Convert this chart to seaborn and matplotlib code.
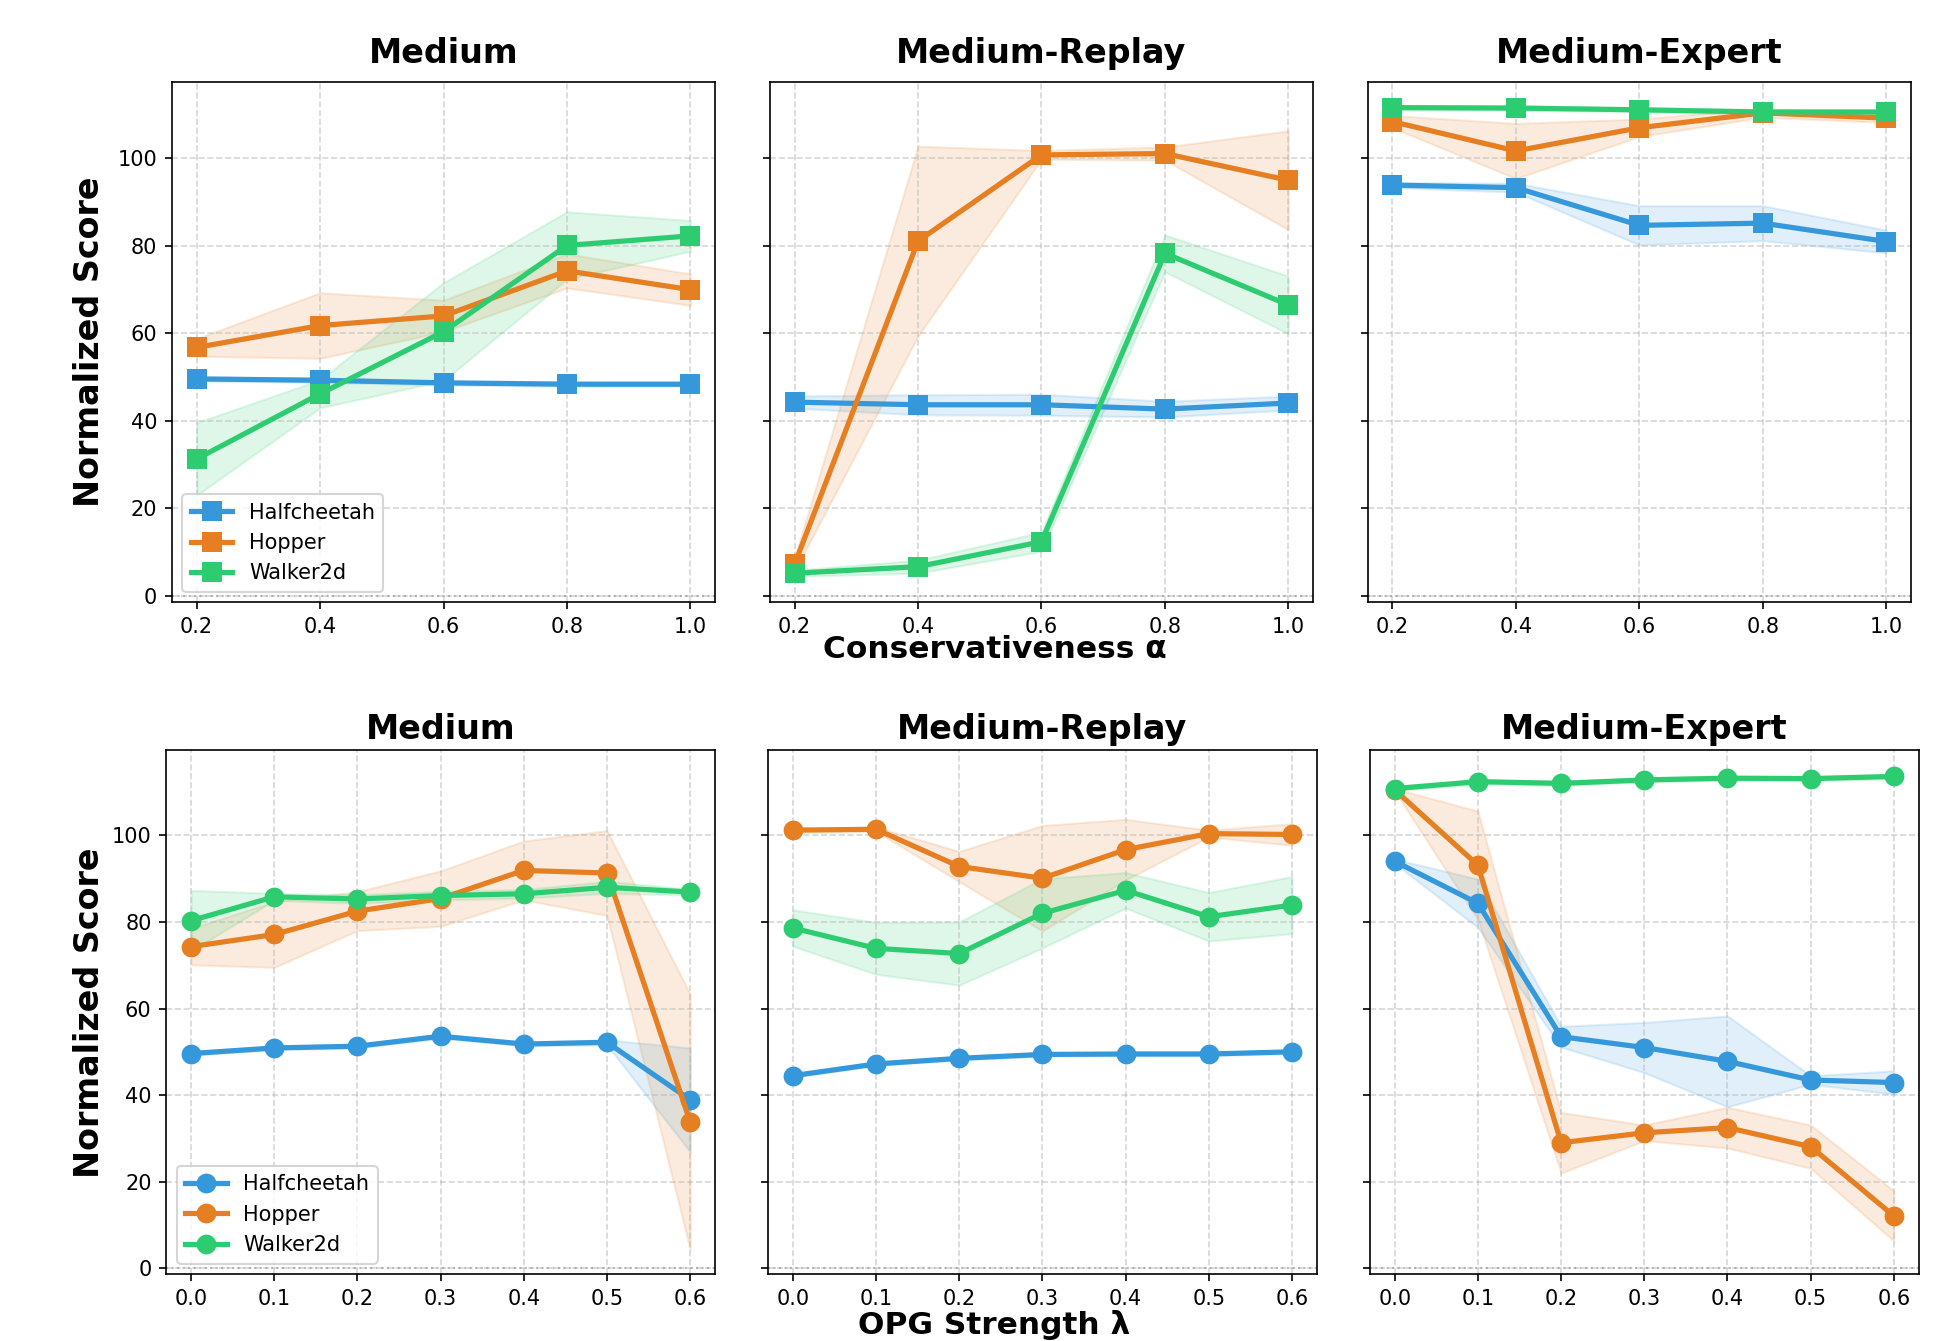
import numpy as np
import pandas as pd
import matplotlib
matplotlib.use("Agg")
import matplotlib.pyplot as plt
import seaborn as sns

envs = ["Halfcheetah", "Hopper", "Walker2d"]
palette = {"Halfcheetah": "#3498db", "Hopper": "#e67e22", "Walker2d": "#2ecc71"}
datasets = ["Medium", "Medium-Replay", "Medium-Expert"]

alphas = [0.2, 0.4, 0.6, 0.8, 1.0]
lambdas = [0.0, 0.1, 0.2, 0.3, 0.4, 0.5, 0.6]

# --- conservativeness alpha sweep (mean / std) ---
a_med_hc = [49.6, 49.3, 48.7, 48.4, 48.4]
a_med_hc_sd = [0.5, 0.5, 0.5, 0.5, 0.5]
a_med_hop = [56.8, 61.8, 64.0, 74.3, 70.0]
a_med_hop_sd = [2.0, 7.5, 3.6, 3.9, 3.6]
a_med_wk = [31.3, 46.2, 60.4, 80.1, 82.3]
a_med_wk_sd = [8.3, 3.2, 11.2, 7.7, 3.5]

a_mr_hc = [44.3, 43.7, 43.7, 42.7, 44.1]
a_mr_hc_sd = [1.4, 2.3, 2.4, 1.8, 1.6]
a_mr_hop = [7.2, 81.1, 100.8, 101.1, 95.0]
a_mr_hop_sd = [1.5, 21.7, 1.0, 1.5, 11.3]
a_mr_wk = [5.2, 6.7, 12.4, 78.3, 66.5]
a_mr_wk_sd = [0.7, 1.5, 2.2, 4.2, 6.6]

a_me_hc = [93.9, 93.3, 84.7, 85.2, 81.0]
a_me_hc_sd = [0.6, 1.0, 4.5, 4.0, 2.6]
a_me_hop = [108.4, 101.7, 107.0, 110.4, 109.2]
a_me_hop_sd = [1.4, 6.3, 2.0, 1.0, 1.0]
a_me_wk = [111.6, 111.5, 111.1, 110.6, 110.6]
a_me_wk_sd = [0.5, 0.5, 0.5, 0.5, 0.5]

# --- OPG strength lambda sweep (mean / std) ---
l_med_hc = [49.6, 50.9, 51.3, 53.6, 51.8, 52.2, 38.9]
l_med_hc_sd = [0.4, 0.4, 0.4, 0.5, 0.4, 0.6, 12.0]
l_med_hop = [74.3, 77.1, 82.5, 85.4, 91.9, 91.3, 33.8]
l_med_hop_sd = [4.2, 7.6, 4.5, 6.4, 6.8, 9.8, 29.5]
l_med_wk = [80.3, 85.8, 85.3, 86.1, 86.5, 88.0, 86.9]
l_med_wk_sd = [7.0, 0.8, 1.0, 1.0, 1.0, 1.4, 0.7]

l_mr_hc = [44.5, 47.2, 48.5, 49.4, 49.5, 49.5, 50.0]
l_mr_hc_sd = [0.4, 0.4, 0.4, 0.4, 0.4, 0.4, 0.4]
l_mr_hop = [101.2, 101.4, 92.8, 90.1, 96.7, 100.4, 100.2]
l_mr_hop_sd = [0.4, 0.5, 3.5, 12.2, 7.0, 0.8, 2.5]
l_mr_wk = [78.6, 73.9, 72.7, 82.0, 87.3, 81.2, 83.9]
l_mr_wk_sd = [4.2, 6.0, 7.3, 8.0, 4.1, 5.6, 6.6]

l_me_hc = [94.0, 84.3, 53.5, 51.0, 47.8, 43.5, 42.9]
l_me_hc_sd = [0.5, 5.6, 2.4, 5.8, 10.5, 1.0, 2.7]
l_me_hop = [110.5, 93.1, 29.0, 31.3, 32.5, 28.1, 12.1]
l_me_hop_sd = [0.3, 12.5, 7.0, 1.8, 4.7, 5.0, 5.8]
l_me_wk = [110.8, 112.4, 112.0, 112.8, 113.2, 113.1, 113.6]
l_me_wk_sd = [0.5, 0.5, 0.5, 0.5, 0.5, 0.5, 0.5]


def make_df(x, series):
    rows = []
    for env, (mean, sd) in zip(envs, series):
        for xi, m, s in zip(x, mean, sd):
            rows.append({"x": xi, "env": env, "score": m, "sd": s})
    return pd.DataFrame(rows)


alpha_dfs = [
    make_df(alphas, [(a_med_hc, a_med_hc_sd), (a_med_hop, a_med_hop_sd), (a_med_wk, a_med_wk_sd)]),
    make_df(alphas, [(a_mr_hc, a_mr_hc_sd), (a_mr_hop, a_mr_hop_sd), (a_mr_wk, a_mr_wk_sd)]),
    make_df(alphas, [(a_me_hc, a_me_hc_sd), (a_me_hop, a_me_hop_sd), (a_me_wk, a_me_wk_sd)]),
]
lambda_dfs = [
    make_df(lambdas, [(l_med_hc, l_med_hc_sd), (l_med_hop, l_med_hop_sd), (l_med_wk, l_med_wk_sd)]),
    make_df(lambdas, [(l_mr_hc, l_mr_hc_sd), (l_mr_hop, l_mr_hop_sd), (l_mr_wk, l_mr_wk_sd)]),
    make_df(lambdas, [(l_me_hc, l_me_hc_sd), (l_me_hop, l_me_hop_sd), (l_me_wk, l_me_wk_sd)]),
]

fig = plt.figure(figsize=(1954 / 150, 1341 / 150), dpi=150)

# axes positions (figure fractions) for the two rows
top_lefts = [0.088, 0.394, 0.700]
bot_lefts = [0.085, 0.393, 0.701]


def draw_row(dfs, lefts, bottom, width, height, xticks, marker, ylim, title_pad):
    axes = []
    for i, (df, left) in enumerate(zip(dfs, lefts)):
        ax = fig.add_axes([left, bottom, width, height], sharey=axes[0] if axes else None)
        for env in envs:
            d = df[df["env"] == env]
            ax.fill_between(d["x"], d["score"] - d["sd"], d["score"] + d["sd"],
                            color=palette[env], alpha=0.15, linewidth=1)
        sns.lineplot(data=df, x="x", y="score", hue="env", palette=palette,
                     marker=marker, markersize=9.5, linewidth=2.5, markeredgewidth=0,
                     errorbar=None, legend=(i == 0), ax=ax)
        ax.axhline(0, color="gray", linestyle=":", linewidth=1, alpha=0.5)
        ax.set_title(datasets[i], fontsize=16, fontweight="bold", pad=title_pad)
        ax.set_xticks(xticks)
        ax.set_xticklabels([f"{v:.1f}" for v in xticks], fontsize=10)
        ax.set_yticks([0, 20, 40, 60, 80, 100])
        ax.set_ylim(*ylim)
        ax.grid(True, linestyle="--", alpha=0.5)
        ax.set_xlabel("")
        ax.set_ylabel("")
        ax.tick_params(axis="y", labelsize=10)
        if i > 0:
            ax.tick_params(labelleft=False)
        else:
            ax.legend(loc="lower left", fontsize=10)
        axes.append(ax)
    return axes


top_axes = draw_row(alpha_dfs, top_lefts, 0.551, 0.278, 0.388, alphas, "s", (-1.4, 117.5), 9)
bot_axes = draw_row(lambda_dfs, bot_lefts, 0.050, 0.281, 0.391, lambdas, "o", (-1.3, 119.8), 5)

fig.text(0.046, 0.745, "Normalized Score", rotation=90, ha="center", va="center",
         fontsize=16, fontweight="bold")
fig.text(0.046, 0.245, "Normalized Score", rotation=90, ha="center", va="center",
         fontsize=16, fontweight="bold")
fig.text(0.509, 0.516, "Conservativeness α", ha="center", va="center",
         fontsize=15, fontweight="bold")
fig.text(0.509, 0.012, "OPG Strength λ", ha="center", va="center",
         fontsize=15, fontweight="bold")

fig.savefig("out.png", dpi=150)
